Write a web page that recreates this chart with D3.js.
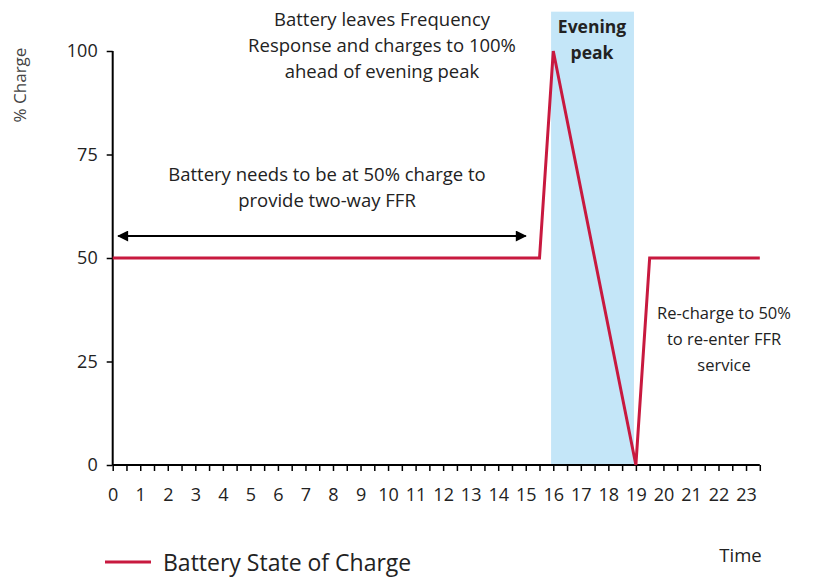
<!DOCTYPE html>
<html><head><meta charset="utf-8">
<script src="https://cdn.jsdelivr.net/npm/d3@7"></script>
<style>body{margin:0;background:#fff;} text{font-family:"Open Sans",sans-serif;fill:#222;}</style>
</head><body><svg id="c" width="813" height="579"></svg>
<script>
const hours = [0, 15.5, 16, 19, 19.5, 23.5];
const charge = [50, 50, 100, 0, 50, 50];
const xTickLabels = d3.range(0, 24);
const yTicks = [0, 25, 50, 75, 100];
const peakBand = [15.92, 18.93];
const peakBandTop = 109.5;
const arrowSpan = [0.2, 15.0];
const arrowLevel = 55.3;

const svg = d3.select("#c");
const x = d3.scaleLinear().domain([0, 23.5]).range([112.7, 759.8]);
const y = d3.scaleLinear().domain([0, 100]).range([465, 51]);

svg.append("rect").attr("x", x(peakBand[0])).attr("width", x(peakBand[1]) - x(peakBand[0]))
  .attr("y", y(peakBandTop)).attr("height", y(0) - y(peakBandTop)).attr("fill", "#c4e6f8");

const yAxis = svg.append("g").attr("transform", `translate(${x(0)},0)`)
  .call(d3.axisLeft(y).tickValues(yTicks).tickSize(6).tickPadding(9));
const xAxis = svg.append("g").attr("transform", `translate(0,${y(0)})`)
  .call(d3.axisBottom(x).tickValues(d3.range(0, 23.51, 0.5)).tickSize(6).tickFormat(""));
const xLab = svg.append("g").attr("transform", `translate(0,${y(0)})`)
  .call(d3.axisBottom(x).tickValues(xTickLabels).tickSize(0).tickPadding(23).tickFormat(d3.format("d")));
xLab.select(".domain").remove();
[yAxis, xAxis].forEach(g => { g.select(".domain").attr("stroke", "#000").attr("stroke-width", 2);
  g.selectAll(".tick line").attr("stroke", "#000").attr("stroke-width", 1.5); });
yAxis.select(".domain").attr("d", `M0,${y(100)}V${y(0)}`);
xAxis.select(".domain").attr("d", `M${x(0)},0H${x(23.5)}`);
svg.selectAll(".tick text").style("font-family", "'Open Sans', sans-serif").style("font-size", "18px").attr("fill", "#222");

const defs = svg.append("defs");
defs.append("marker").attr("id", "ah").attr("viewBox", "0 0 10 10").attr("refX", 9).attr("refY", 5)
  .attr("markerWidth", 12).attr("markerHeight", 11).attr("markerUnits", "userSpaceOnUse").attr("orient", "auto-start-reverse")
  .append("path").attr("d", "M0,0L10,5L0,10z").attr("fill", "#000");
svg.append("line").attr("x1", x(arrowSpan[0])).attr("x2", x(arrowSpan[1])).attr("y1", y(arrowLevel)).attr("y2", y(arrowLevel))
  .attr("stroke", "#000").attr("stroke-width", 2).attr("marker-start", "url(#ah)").attr("marker-end", "url(#ah)");

const pts = hours.map((h, i) => [h, charge[i]]);
svg.append("path").datum(pts).attr("fill", "none").attr("stroke", "#c8193f").attr("stroke-width", 3)
  .attr("d", d3.line().x(d => x(d[0])).y(d => y(d[1])));

function lines(arr, cx, y0, dy, opts = {}) {
  const t = svg.append("text").attr("text-anchor", "middle").style("font-size", (opts.size || 18.5) + "px")
    .style("font-weight", opts.bold ? "bold" : "normal");
  arr.forEach((s, i) => t.append("tspan").attr("x", cx).attr("y", y0 + i * dy).text(s));
}
lines(["Battery leaves Frequency", "Response and charges to 100%", "ahead of evening peak"], 382, 26, 26);
lines(["Battery needs to be at 50% charge to", "provide two-way FFR"], 327, 181, 26);
lines(["Evening", "peak"], 592, 33, 26, {bold: true, size: 17.5});
lines(["Re-charge to 50%", "to re-enter FFR", "service"], 724, 319, 26, {size: 16.5});

svg.append("text").attr("transform", "translate(26,85) rotate(-90)").attr("text-anchor", "middle")
  .style("font-size", "17px").style("fill", "#444").text("% Charge");
svg.append("text").attr("x", 740.5).attr("y", 562).attr("text-anchor", "middle").style("font-size", "18.5px").text("Time");

svg.append("line").attr("x1", 105).attr("x2", 151).attr("y1", 562).attr("y2", 562).attr("stroke", "#c8193f").attr("stroke-width", 3);
svg.append("text").attr("x", 163).attr("y", 571).style("font-size", "23px").text("Battery State of Charge");
</script></body></html>
